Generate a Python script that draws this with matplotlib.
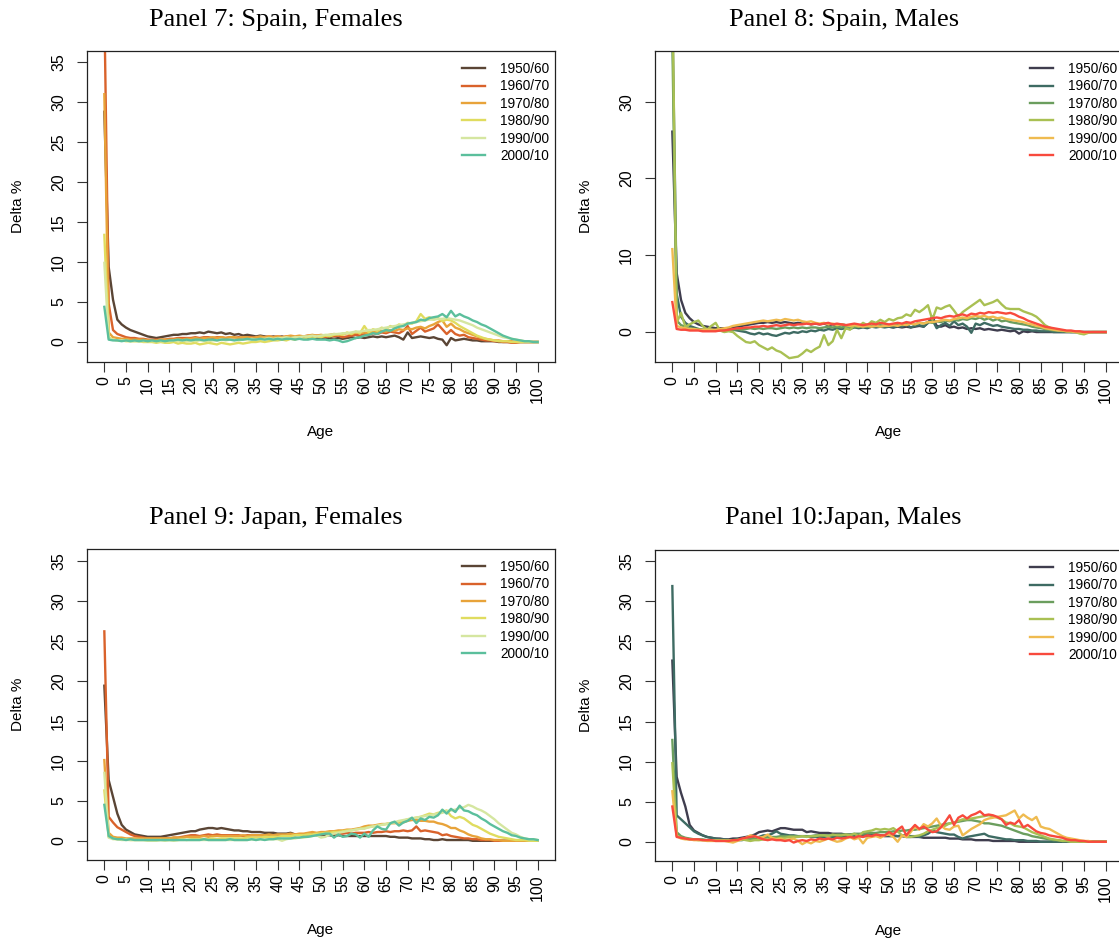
import numpy as np
import matplotlib
matplotlib.use("Agg")
import matplotlib.pyplot as plt

plt.rcParams['font.family'] = ['Liberation Sans', 'DejaVu Sans']

ages = list(range(0, 101))
periods = ["1950/60", "1960/70", "1970/80", "1980/90", "1990/00", "2000/10"]

fem_colors = ["#5a4535", "#d9622b", "#e8a33a", "#e0dc5f", "#d5e6a0", "#5bbf9c"]
male_colors = ["#3f3d4e", "#3e6b63", "#6b9e5e", "#a9c053", "#efbb50", "#f84a3d"]

# ---- Panel 7: Spain, Females (delta % by age)
es_f_1950 = [28.8, 9.4, 5.3, 2.8, 2.2, 1.8, 1.5, 1.3, 1.1, 0.9,
             0.7, 0.6, 0.5, 0.6, 0.7, 0.8, 0.9, 0.9, 1.0, 1.0,
             1.1, 1.1, 1.2, 1.1, 1.3, 1.2, 1.1, 1.2, 1.0, 1.1,
             0.9, 1.0, 0.8, 0.9, 0.8, 0.7, 0.8, 0.7, 0.6, 0.7,
             0.6, 0.7, 0.5, 0.6, 0.5, 0.5, 0.6, 0.5, 0.4, 0.5,
             0.5, 0.4, 0.5, 0.4, 0.5, 0.4, 0.5, 0.6, 0.5, 0.6,
             0.5, 0.6, 0.7, 0.6, 0.7, 0.6, 0.7, 0.8, 0.6, 0.3,
             1.2, 0.5, 0.6, 0.7, 0.6, 0.5, 0.6, 0.4, 0.3, -0.4,
             0.5, 0.2, 0.3, 0.4, 0.3, 0.2, 0.2, 0.1, 0.1, 0.1,
             0.1, 0.0, 0.0, 0.0, 0.0, 0.0, 0.0, 0.0, 0.0, 0.0,
             0.0]
es_f_1960 = [42.0, 4.8, 1.5, 1.0, 0.8, 0.6, 0.5, 0.5, 0.4, 0.4,
             0.3, 0.3, 0.3, 0.3, 0.3, 0.4, 0.4, 0.5, 0.5, 0.5,
             0.5, 0.6, 0.5, 0.6, 0.6, 0.5, 0.6, 0.6, 0.5, 0.6,
             0.5, 0.6, 0.5, 0.6, 0.6, 0.5, 0.6, 0.6, 0.7, 0.6,
             0.7, 0.6, 0.7, 0.7, 0.6, 0.7, 0.7, 0.8, 0.7, 0.8,
             0.7, 0.6, 0.8, 0.7, 0.8, 0.6, 0.7, 0.8, 0.9, 0.8,
             1.0, 0.9, 1.1, 1.0, 1.2, 1.1, 1.3, 1.2, 1.1, 1.4,
             2.0, 1.0, 1.4, 1.8, 1.3, 1.5, 1.7, 2.2, 1.6, 1.0,
             1.5, 1.0, 0.8, 0.9, 0.6, 0.5, 0.4, 0.3, 0.2, 0.2,
             0.1, 0.1, 0.0, 0.0, -0.1, -0.1, 0.0, 0.0, 0.0, 0.0,
             0.0]
es_f_1970 = [31.0, 1.2, 0.6, 0.5, 0.4, 0.4, 0.3, 0.3, 0.3, 0.3,
             0.2, 0.2, 0.2, 0.3, 0.3, 0.3, 0.3, 0.4, 0.3, 0.4,
             0.4, 0.5, 0.4, 0.5, 0.5, 0.6, 0.5, 0.6, 0.5, 0.6,
             0.6, 0.5, 0.6, 0.6, 0.5, 0.6, 0.7, 0.6, 0.7, 0.6,
             0.7, 0.6, 0.7, 0.8, 0.7, 0.8, 0.7, 0.8, 0.9, 0.8,
             0.9, 0.8, 0.9, 1.0, 0.9, 1.0, 1.1, 1.0, 1.2, 1.1,
             1.2, 1.1, 1.3, 1.2, 1.4, 1.3, 1.5, 1.4, 1.6, 1.5,
             1.7, 1.6, 1.8, 1.9, 1.7, 2.0, 2.2, 2.5, 2.7, 1.9,
             2.3, 1.8, 1.6, 1.3, 1.1, 0.9, 0.7, 0.5, 0.4, 0.3,
             0.2, 0.2, 0.1, 0.1, 0.1, 0.0, 0.0, 0.0, 0.0, 0.0,
             0.0]
es_f_1980 = [13.4, 0.6, 0.3, 0.2, 0.2, 0.1, 0.1, 0.1, 0.1, 0.0,
             0.0, 0.0, -0.1, 0.0, -0.1, -0.1, 0.0, -0.2, -0.1, -0.2,
             -0.2, -0.1, -0.3, -0.2, -0.1, -0.2, -0.3, -0.1, -0.2, -0.3,
             -0.2, -0.1, -0.2, -0.1, 0.0, 0.0, 0.1, 0.0, 0.1, 0.2,
             0.2, 0.3, 0.2, 0.4, 0.3, 0.5, 0.4, 0.6, 0.5, 0.7,
             0.6, 0.8, 0.7, 0.9, 1.0, 0.9, 1.2, 1.0, 1.3, 1.1,
             2.0, 1.2, 1.6, 1.4, 1.8, 1.6, 2.0, 1.8, 2.2, 2.0,
             2.4, 2.3, 2.6, 3.5, 2.9, 3.1, 2.8, 3.0, 2.6, 2.8,
             2.7, 2.4, 2.0, 1.7, 1.4, 1.1, 0.8, 0.6, 0.4, 0.3,
             0.2, 0.1, 0.1, 0.1, 0.0, 0.0, 0.0, 0.0, 0.0, 0.0,
             0.0]
es_f_1990 = [9.9, 0.5, 0.3, 0.2, 0.2, 0.2, 0.1, 0.1, 0.1, 0.1,
             0.1, 0.1, 0.1, 0.1, 0.1, 0.1, 0.2, 0.1, 0.2, 0.1,
             0.2, 0.1, 0.2, 0.2, 0.1, 0.2, 0.2, 0.3, 0.2, 0.3,
             0.3, 0.2, 0.3, 0.3, 0.4, 0.3, 0.4, 0.4, 0.5, 0.4,
             0.5, 0.5, 0.6, 0.5, 0.6, 0.6, 0.7, 0.7, 0.8, 0.7,
             0.8, 0.9, 0.9, 1.0, 1.0, 1.1, 1.1, 1.2, 1.3, 1.3,
             1.4, 1.5, 1.5, 1.6, 1.7, 1.8, 1.9, 2.0, 2.1, 2.2,
             2.3, 2.4, 2.5, 2.6, 2.7, 2.8, 2.8, 2.9, 2.9, 3.0,
             2.9, 2.8, 2.7, 2.5, 2.3, 2.1, 1.8, 1.6, 1.4, 1.2,
             1.0, 0.8, 0.6, 0.5, 0.4, 0.3, 0.2, 0.1, 0.1, 0.0,
             0.0]
es_f_2000 = [4.4, 0.3, 0.2, 0.2, 0.1, 0.2, 0.1, 0.2, 0.1, 0.2,
             0.1, 0.2, 0.1, 0.2, 0.1, 0.2, 0.2, 0.3, 0.2, 0.3,
             0.2, 0.3, 0.3, 0.2, 0.3, 0.3, 0.2, 0.3, 0.3, 0.3,
             0.2, 0.3, 0.3, 0.4, 0.3, 0.3, 0.4, 0.3, 0.4, 0.3,
             0.4, 0.3, 0.4, 0.4, 0.3, 0.4, 0.3, 0.3, 0.4, 0.3,
             0.3, 0.3, 0.2, 0.3, 0.2, 0.0, 0.1, 0.3, 0.5, 0.6,
             0.8, 0.9, 1.1, 1.0, 1.3, 1.5, 1.4, 1.7, 1.9, 2.0,
             2.3, 2.4, 2.5, 2.8, 2.7, 3.0, 3.1, 3.2, 3.5, 3.1,
             3.9, 3.2, 3.5, 3.2, 3.0, 2.7, 2.5, 2.2, 2.0, 1.7,
             1.4, 1.1, 0.8, 0.6, 0.4, 0.3, 0.2, 0.1, 0.1, 0.0,
             0.0]

# ---- Panel 8: Spain, Males
es_m_1950 = [26.1, 7.7, 4.2, 2.5, 1.8, 1.3, 1.0, 0.8, 0.7, 0.6,
             0.5, 0.5, 0.5, 0.5, 0.6, 0.7, 0.8, 0.9, 1.0, 1.1,
             1.2, 1.2, 1.3, 1.2, 1.3, 1.2, 1.3, 1.2, 1.1, 1.2,
             1.1, 1.2, 1.0, 1.1, 1.0, 1.1, 0.9, 1.0, 0.9, 1.0,
             0.9, 0.8, 0.9, 0.8, 0.9, 0.8, 0.7, 0.8, 0.7, 0.8,
             0.7, 0.6, 0.7, 0.6, 0.7, 0.6, 0.7, 0.8, 0.7, 1.2,
             2.0, 0.8, 0.7, 0.9, 0.6, 0.7, 0.5, 0.6, 0.4, 0.5,
             0.4, 0.5, 0.3, 0.4, 0.3, 0.2, 0.3, 0.2, 0.1, 0.2,
             -0.2, 0.1, 0.0, 0.1, 0.0, 0.0, 0.0, 0.0, 0.0, 0.0,
             0.0, 0.0, 0.0, 0.0, 0.0, 0.0, 0.0, 0.0, 0.0, 0.0,
             0.0]
es_m_1960 = [42.0, 5.0, 2.0, 1.2, 0.8, 0.6, 0.4, 0.3, 0.3, 0.2,
             0.2, 0.2, 0.1, 0.2, 0.3, 0.2, 0.1, 0.0, -0.2, -0.3,
             -0.1, -0.3, -0.2, -0.4, -0.5, -0.3, -0.1, -0.2, 0.0, -0.1,
             0.1, 0.0, 0.2, 0.1, 0.3, 0.2, 0.4, 0.3, 0.5, 0.4,
             0.5, 0.4, 0.6, 0.5, 0.6, 0.5, 0.7, 0.6, 0.7, 0.6,
             0.7, 0.6, 0.8, 0.7, 1.0, 0.6, 0.8, 0.9, 0.7, 1.2,
             1.6, 0.5, 0.9, 1.2, 0.8, 1.4, 0.9, 1.1, 0.7, -0.1,
             1.1, 0.9, 1.2, 1.0, 0.8, 0.9, 0.7, 0.6, 0.5, 0.4,
             0.4, 0.3, 0.3, 0.2, 0.2, 0.1, 0.1, 0.1, 0.0, 0.0,
             0.0, 0.0, 0.0, 0.0, 0.0, 0.0, 0.0, 0.0, 0.0, 0.0,
             0.0]
es_m_1970 = [38.0, 1.5, 0.9, 0.7, 0.5, 0.4, 0.4, 0.3, 0.3, 0.3,
             0.2, 0.3, 0.2, 0.3, 0.3, 0.4, 0.3, 0.4, 0.5, 0.4,
             0.5, 0.4, 0.5, 0.5, 0.4, 0.5, 0.6, 0.5, 0.6, 0.5,
             0.6, 0.5, 0.6, 0.6, 0.5, 0.6, 0.7, 0.6, 0.7, 0.6,
             0.7, 0.7, 0.6, 0.7, 0.8, 0.7, 0.8, 0.8, 0.9, 0.8,
             0.9, 0.9, 1.0, 0.9, 1.0, 1.1, 1.0, 1.2, 1.1, 1.3,
             1.2, 1.4, 1.3, 1.5, 1.4, 1.6, 1.5, 1.7, 1.6, 1.8,
             1.7, 1.9, 1.6, 1.8, 1.5, 1.7, 1.4, 1.5, 1.3, 1.2,
             1.1, 1.0, 0.9, 0.7, 0.6, 0.5, 0.4, 0.3, 0.2, 0.2,
             0.1, 0.1, 0.0, 0.0, 0.0, 0.0, 0.0, 0.0, 0.0, 0.0,
             0.0]
es_m_1980 = [45.0, 1.2, 2.5, 0.7, 1.0, 1.3, 1.5, 0.8, 0.3, 0.8,
             1.2, 0.2, 0.0, 0.1, 0.0, -0.5, -0.9, -1.3, -1.4, -1.2,
             -1.7, -2.0, -2.3, -2.0, -2.4, -2.6, -3.0, -3.4, -3.3, -3.2,
             -2.8, -2.3, -2.6, -2.2, -1.9, -0.4, -1.7, -1.2, 0.3, -0.8,
             0.5, 0.3, 0.9, 0.7, 1.2, 0.9, 1.4, 1.2, 1.6, 1.3,
             1.7, 1.5, 1.8, 1.9, 2.3, 2.1, 2.9, 2.6, 3.0, 3.5,
             1.6, 3.2, 3.0, 3.3, 3.5, 2.8, 2.0, 2.6, 3.0, 3.4,
             3.8, 4.2, 3.5, 3.7, 3.9, 4.2, 3.6, 3.1, 3.0, 3.0,
             3.0, 2.7, 2.5, 2.3, 2.0, 1.5, 0.9, 0.6, 0.4, 0.3,
             0.2, 0.1, 0.1, 0.0, -0.2, -0.3, -0.1, 0.0, 0.0, 0.0,
             0.0]
es_m_1990 = [10.8, 0.8, 0.6, 0.5, 0.4, 0.4, 0.3, 0.3, 0.3, 0.3,
             0.3, 0.4, 0.5, 0.6, 0.8, 0.9, 1.0, 1.1, 1.2, 1.3,
             1.4, 1.5, 1.4, 1.5, 1.6, 1.5, 1.7, 1.6, 1.5, 1.6,
             1.4, 1.3, 1.4, 1.2, 1.1, 1.2, 1.0, 1.1, 0.9, 1.0,
             0.9, 0.8, 0.9, 0.8, 0.7, 0.8, 0.7, 0.8, 0.7, 0.8,
             0.8, 0.9, 0.8, 1.0, 0.9, 1.1, 1.0, 1.2, 1.1, 1.3,
             1.3, 1.4, 1.5, 1.6, 1.5, 1.7, 1.8, 1.9, 1.8, 2.0,
             2.1, 2.0, 2.1, 1.9, 2.0, 1.8, 1.9, 1.7, 1.6, 1.5,
             1.4, 1.3, 1.1, 1.0, 0.8, 0.7, 0.5, 0.4, 0.3, 0.2,
             0.2, 0.1, 0.1, 0.0, 0.0, -0.1, 0.0, 0.0, 0.0, 0.0,
             0.0]
es_m_2000 = [3.9, 0.4, 0.3, 0.3, 0.2, 0.2, 0.2, 0.1, 0.1, 0.1,
             0.1, 0.2, 0.2, 0.3, 0.4, 0.5, 0.5, 0.6, 0.6, 0.7,
             0.7, 0.8, 0.7, 0.8, 0.9, 0.8, 0.9, 1.0, 0.9, 1.0,
             1.0, 1.1, 1.0, 1.1, 1.0, 1.1, 1.2, 1.0, 1.1, 1.0,
             0.9, 1.0, 1.1, 1.0, 0.9, 1.0, 1.1, 1.0, 1.2, 1.1,
             1.0, 1.1, 1.2, 1.1, 1.3, 1.2, 1.4, 1.5, 1.6, 1.7,
             1.8, 1.9, 1.8, 2.0, 2.1, 2.0, 2.2, 2.3, 2.1, 2.4,
             2.3, 2.5, 2.4, 2.6, 2.5, 2.6, 2.5, 2.4, 2.5, 2.3,
             2.0, 1.8, 1.5, 1.3, 1.1, 0.9, 0.7, 0.6, 0.5, 0.4,
             0.3, 0.2, 0.2, 0.1, 0.1, 0.0, 0.0, 0.0, 0.0, 0.0,
             0.0]

# ---- Panel 9: Japan, Females
jp_f_1950 = [19.4, 7.6, 5.5, 3.4, 2.0, 1.4, 1.1, 0.8, 0.7, 0.6,
             0.5, 0.5, 0.5, 0.5, 0.6, 0.7, 0.8, 0.9, 1.0, 1.1,
             1.2, 1.2, 1.4, 1.5, 1.6, 1.6, 1.5, 1.6, 1.5, 1.4,
             1.3, 1.3, 1.2, 1.2, 1.1, 1.1, 1.1, 1.0, 1.0, 1.0,
             0.9, 0.9, 0.9, 1.0, 0.8, 0.8, 0.8, 0.7, 0.8, 0.7,
             0.7, 0.7, 0.7, 0.6, 0.7, 0.6, 0.6, 0.6, 0.6, 0.6,
             0.6, 0.6, 0.6, 0.6, 0.6, 0.6, 0.5, 0.5, 0.4, 0.4,
             0.4, 0.3, 0.3, 0.3, 0.2, 0.2, 0.1, 0.1, 0.2, 0.1,
             0.1, 0.1, 0.1, 0.1, 0.1, 0.0, 0.0, 0.0, 0.0, 0.0,
             0.0, 0.0, 0.0, 0.0, 0.0, 0.0, 0.0, 0.0, 0.0, 0.0,
             0.0]
jp_f_1960 = [26.2, 3.0, 2.3, 1.7, 1.4, 1.1, 0.8, 0.6, 0.5, 0.4,
             0.3, 0.3, 0.3, 0.3, 0.3, 0.3, 0.4, 0.4, 0.5, 0.6,
             0.7, 0.7, 0.6, 0.7, 0.8, 0.7, 0.8, 0.7, 0.7, 0.7,
             0.7, 0.7, 0.6, 0.7, 0.7, 0.7, 0.7, 0.6, 0.7, 0.7,
             0.7, 0.7, 0.7, 0.8, 0.7, 0.8, 0.8, 0.8, 0.8, 0.8,
             0.8, 0.9, 0.8, 0.9, 0.9, 0.9, 1.0, 0.9, 1.0, 1.0,
             1.0, 1.1, 1.0, 1.1, 1.1, 1.2, 1.1, 1.2, 1.2, 1.3,
             1.2, 1.3, 1.8, 1.2, 1.3, 1.2, 1.1, 1.0, 0.7, 0.8,
             0.6, 0.5, 0.4, 0.3, 0.3, 0.2, 0.2, 0.1, 0.1, 0.1,
             0.0, 0.0, 0.0, 0.0, 0.0, 0.0, 0.0, 0.0, 0.0, 0.0,
             0.0]
jp_f_1970 = [10.1, 1.0, 0.5, 0.4, 0.4, 0.3, 0.3, 0.3, 0.3, 0.3,
             0.3, 0.3, 0.3, 0.3, 0.3, 0.3, 0.4, 0.4, 0.4, 0.5,
             0.5, 0.5, 0.5, 0.6, 0.5, 0.6, 0.6, 0.6, 0.6, 0.6,
             0.6, 0.6, 0.7, 0.6, 0.7, 0.7, 0.7, 0.7, 0.8, 0.7,
             0.8, 0.8, 0.8, 0.9, 0.8, 0.9, 0.9, 1.0, 1.1, 1.0,
             1.1, 1.1, 1.2, 1.2, 1.3, 1.3, 1.4, 1.4, 1.5, 1.6,
             1.8, 1.9, 1.9, 2.0, 2.1, 2.1, 2.2, 2.2, 2.3, 2.3,
             2.5, 2.6, 2.6, 2.5, 2.5, 2.4, 2.4, 2.2, 2.1, 1.9,
             1.6, 1.6, 1.3, 1.1, 0.8, 0.6, 0.5, 0.3, 0.2, 0.2,
             0.1, 0.1, 0.0, 0.0, 0.0, 0.0, 0.0, 0.0, 0.0, 0.0,
             0.0]
jp_f_1980 = [6.3, 0.5, 0.3, 0.2, 0.2, 0.2, 0.1, 0.1, 0.1, 0.1,
             0.1, 0.1, 0.1, 0.1, 0.1, 0.1, 0.1, 0.1, 0.2, 0.1,
             0.2, 0.2, 0.2, 0.2, 0.2, 0.3, 0.2, 0.3, 0.3, 0.3,
             0.3, 0.3, 0.3, 0.4, 0.4, 0.4, 0.4, 0.5, 0.5, 0.5,
             0.5, 0.6, 0.6, 0.6, 0.7, 0.7, 0.7, 0.8, 0.8, 0.9,
             0.9, 1.0, 1.0, 1.1, 1.1, 1.2, 1.3, 1.3, 1.4, 1.5,
             1.6, 1.7, 1.8, 1.9, 2.0, 2.1, 2.2, 2.3, 2.4, 2.5,
             2.7, 2.8, 2.9, 3.0, 3.2, 3.4, 3.3, 3.5, 3.6, 3.8,
             3.1, 2.8, 3.0, 2.8, 2.4, 2.0, 1.8, 1.5, 1.2, 0.9,
             0.7, 0.5, 0.4, 0.3, 0.2, 0.1, 0.1, 0.1, 0.0, 0.0,
             0.0]
jp_f_1990 = [8.5, 0.4, 0.2, 0.2, 0.1, 0.1, 0.1, 0.1, 0.1, 0.1,
             0.0, 0.0, 0.0, 0.1, 0.0, 0.1, 0.0, 0.1, 0.1, 0.1,
             0.1, 0.1, 0.1, 0.1, 0.1, 0.1, 0.1, 0.1, 0.1, 0.1,
             0.1, 0.1, 0.1, 0.1, 0.2, 0.1, 0.2, 0.2, 0.2, 0.2,
             0.2, 0.0, 0.2, 0.3, 0.3, 0.4, 0.4, 0.5, 0.6, 0.7,
             0.4, 0.5, 0.8, 0.9, 1.0, 1.1, 1.2, 1.3, 1.4, 1.5,
             1.5, 1.7, 1.8, 1.9, 2.0, 2.1, 2.2, 2.3, 2.5, 2.6,
             2.7, 2.8, 2.9, 3.0, 3.1, 3.2, 3.3, 3.4, 3.5, 3.7,
             3.8, 3.9, 4.1, 4.2, 4.5, 4.3, 4.0, 3.8, 3.5, 3.1,
             2.7, 2.2, 1.8, 1.4, 1.0, 0.8, 0.5, 0.3, 0.2, 0.2,
             0.1]
jp_f_2000 = [4.5, 0.6, 0.3, 0.2, 0.2, 0.1, 0.2, 0.1, 0.1, 0.1,
             0.1, 0.1, 0.1, 0.1, 0.1, 0.1, 0.1, 0.1, 0.1, 0.1,
             0.1, 0.1, 0.1, 0.2, 0.1, 0.1, 0.1, 0.1, 0.1, 0.2,
             0.1, 0.1, 0.1, 0.1, 0.2, 0.1, 0.2, 0.1, 0.2, 0.2,
             0.3, 0.3, 0.3, 0.3, 0.4, 0.4, 0.5, 0.5, 0.6, 0.7,
             0.8, 0.9, 0.9, 0.4, 0.8, 0.5, 0.6, 0.9, 0.8, 0.4,
             0.9, 0.5, 1.3, 1.8, 1.5, 1.4, 2.2, 2.4, 1.9, 2.3,
             2.5, 2.9, 2.2, 2.8, 2.6, 3.0, 2.9, 3.2, 3.9, 3.4,
             4.0, 3.6, 4.4, 3.8, 3.7, 3.4, 3.2, 2.8, 2.5, 2.1,
             1.8, 1.5, 1.2, 1.0, 0.7, 0.6, 0.4, 0.3, 0.2, 0.2,
             0.1]

# ---- Panel 10: Japan, Males
jp_m_1950 = [22.6, 8.1, 6.1, 4.4, 2.1, 1.4, 1.1, 0.8, 0.6, 0.5,
             0.4, 0.4, 0.3, 0.3, 0.4, 0.4, 0.5, 0.6, 0.7, 0.9,
             1.2, 1.3, 1.4, 1.3, 1.5, 1.7, 1.7, 1.6, 1.5, 1.5,
             1.5, 1.2, 1.3, 1.2, 1.1, 1.1, 1.1, 1.0, 1.0, 1.0,
             0.9, 0.9, 0.9, 0.9, 0.8, 0.8, 0.8, 0.8, 0.8, 0.7,
             0.7, 0.7, 0.7, 0.7, 0.6, 0.6, 0.6, 0.6, 0.5, 0.5,
             0.5, 0.5, 0.5, 0.5, 0.4, 0.4, 0.4, 0.3, 0.3, 0.3,
             0.2, 0.2, 0.2, 0.2, 0.1, 0.1, 0.1, 0.1, 0.1, 0.1,
             0.0, 0.0, 0.0, 0.0, 0.0, 0.0, 0.0, 0.0, 0.0, 0.0,
             0.0, 0.0, 0.0, 0.0, 0.0, 0.0, 0.0, 0.0, 0.0, 0.0,
             0.0]
jp_m_1960 = [31.9, 3.3, 2.8, 2.3, 1.8, 1.3, 1.0, 0.8, 0.6, 0.5,
             0.4, 0.3, 0.3, 0.2, 0.2, 0.2, 0.2, 0.3, 0.4, 0.5,
             0.6, 0.8, 0.8, 1.0, 1.3, 1.0, 0.9, 0.8, 0.8, 0.7,
             0.7, 0.7, 0.6, 0.6, 0.6, 0.6, 0.7, 0.6, 0.6, 0.6,
             0.6, 0.6, 0.7, 0.7, 0.7, 0.7, 0.8, 0.8, 0.7, 0.8,
             0.8, 0.8, 0.7, 0.8, 0.8, 0.7, 0.7, 0.6, 0.8, 1.0,
             1.4, 1.2, 1.1, 1.0, 0.9, 0.9, 0.6, 0.4, 0.6, 0.7,
             0.8, 0.9, 1.0, 0.7, 0.6, 0.5, 0.4, 0.3, 0.3, 0.2,
             0.2, 0.2, 0.1, 0.1, 0.1, 0.0, 0.0, 0.0, 0.0, 0.0,
             0.0, 0.0, 0.0, 0.0, 0.0, 0.0, 0.0, 0.0, 0.0, 0.0,
             0.0]
jp_m_1970 = [12.7, 1.2, 0.7, 0.5, 0.4, 0.3, 0.3, 0.3, 0.2, 0.2,
             0.2, 0.2, 0.2, 0.2, 0.2, 0.3, 0.3, 0.3, 0.4, 0.4,
             0.5, 0.5, 0.6, 0.6, 0.6, 0.7, 0.7, 0.7, 0.7, 0.7,
             0.7, 0.7, 0.7, 0.8, 0.8, 0.8, 0.8, 0.8, 0.9, 0.9,
             0.9, 0.9, 1.0, 1.0, 1.0, 1.1, 1.1, 1.1, 1.2, 1.2,
             1.2, 1.3, 1.3, 1.4, 1.4, 1.5, 1.5, 1.6, 1.7, 1.8,
             1.9, 2.0, 2.1, 2.2, 2.3, 2.4, 2.5, 2.6, 2.7, 2.7,
             2.6, 2.5, 2.3, 2.3, 2.2, 2.1, 2.0, 1.8, 1.6, 1.4,
             1.2, 1.0, 0.9, 0.7, 0.6, 0.5, 0.4, 0.3, 0.2, 0.2,
             0.1, 0.1, 0.0, 0.0, 0.0, 0.0, 0.0, 0.0, 0.0, 0.0,
             0.0]
jp_m_1980 = [9.8, 0.8, 0.5, 0.4, 0.3, 0.3, 0.2, 0.2, 0.2, 0.2,
             0.2, 0.2, 0.2, 0.2, 0.2, 0.2, 0.3, 0.2, 0.1, 0.2,
             0.2, 0.3, 0.3, 0.4, 0.4, 0.5, 0.5, 0.6, 0.6, 0.6,
             0.7, 0.6, 0.7, 0.7, 0.8, 0.8, 0.7, 0.9, 0.8, 0.8,
             0.9, 0.8, 1.0, 0.7, 1.2, 1.3, 1.4, 1.6, 1.5, 1.6,
             1.5, 1.7, 1.3, 0.8, 0.6, 0.6, 0.7, 0.8, 1.0, 1.3,
             1.5, 1.7, 1.9, 2.0, 2.3, 2.4, 2.6, 2.8, 2.8, 2.9,
             3.0, 3.1, 3.2, 3.3, 3.2, 3.0, 2.8, 2.4, 2.3, 2.0,
             1.9, 1.8, 1.5, 1.2, 1.0, 0.8, 0.6, 0.4, 0.3, 0.2,
             0.1, 0.1, 0.0, 0.0, 0.0, 0.0, 0.0, 0.0, 0.0, 0.0,
             0.0]
jp_m_1990 = [6.3, 0.7, 0.4, 0.3, 0.3, 0.2, 0.2, 0.2, 0.1, 0.1,
             0.1, 0.1, 0.1, 0.0, -0.1, 0.1, 0.3, 0.5, 0.8, 0.7,
             0.5, 0.6, 0.9, 0.5, 0.3, 0.4, 0.2, 0.3, 0.4, 0.1,
             -0.3, 0.0, -0.2, 0.1, 0.0, 0.2, 0.4, 0.2, 0.0, 0.1,
             0.4, 0.6, 0.3, 0.5, -0.2, 0.5, 0.6, 0.7, 0.5, 0.8,
             0.9, 0.6, 0.0, 0.8, 0.6, 1.2, 1.9, 1.5, 2.2, 1.9,
             2.3, 2.9, 2.0, 1.6, 1.5, 1.9, 2.0, 0.8, 1.2, 1.6,
             1.9, 2.2, 2.7, 2.9, 3.0, 3.1, 3.2, 3.3, 3.6, 3.9,
             2.9, 3.4, 3.0, 2.7, 3.1, 1.9, 1.7, 1.6, 1.3, 1.0,
             0.7, 0.5, 0.4, 0.3, 0.2, 0.1, 0.1, 0.0, 0.0, 0.0,
             0.0]
jp_m_2000 = [4.4, 0.6, 0.5, 0.4, 0.3, 0.3, 0.3, 0.2, 0.2, 0.2,
             0.1, 0.1, 0.1, 0.1, 0.2, 0.2, 0.4, 0.5, 0.6, 0.7,
             0.5, 0.3, 0.2, 0.3, 0.2, 0.2, 0.1, 0.2, -0.1, 0.1,
             0.2, 0.1, 0.3, 0.2, 0.4, 0.3, 0.4, 0.3, 0.5, 0.4,
             0.5, 0.6, 0.5, 0.7, 0.6, 0.8, 0.7, 0.9, 0.8, 0.8,
             1.2, 0.9, 1.5, 1.9, 0.8, 1.5, 2.1, 1.6, 1.9, 1.5,
             1.2, 1.3, 1.8, 2.5, 3.3, 2.1, 3.0, 3.3, 2.9, 3.3,
             3.5, 3.8, 3.3, 3.4, 3.3, 3.1, 2.8, 2.1, 2.4, 2.2,
             2.7, 1.8, 2.1, 1.7, 1.3, 1.1, 1.0, 0.8, 0.7, 0.6,
             0.5, 0.3, 0.2, 0.2, 0.1, 0.1, 0.0, 0.0, 0.0, 0.0,
             0.0]

panels = [
    ("Panel 7: Spain, Females", [es_f_1950, es_f_1960, es_f_1970, es_f_1980, es_f_1990, es_f_2000],
     fem_colors, (-2.5, 36.4), list(range(0, 36, 5))),
    ("Panel 8: Spain, Males", [es_m_1950, es_m_1960, es_m_1970, es_m_1980, es_m_1990, es_m_2000],
     male_colors, (-3.9, 36.6), [0, 10, 20, 30]),
    ("Panel 9: Japan, Females", [jp_f_1950, jp_f_1960, jp_f_1970, jp_f_1980, jp_f_1990, jp_f_2000],
     fem_colors, (-2.4, 36.5), list(range(0, 36, 5))),
    ("Panel 10:Japan, Males", [jp_m_1950, jp_m_1960, jp_m_1970, jp_m_1980, jp_m_1990, jp_m_2000],
     male_colors, (-2.4, 36.4), list(range(0, 36, 5))),
]

W, H = 1119, 940
fig = plt.figure(figsize=(W / 100, H / 100), dpi=100)

# axes boxes in pixels: left, top (width/height shared)
boxes = [(87, 51), (655, 51), (87, 549), (655, 550)]
aw, ah = 468, 311
title_pos = [(276, 20), (844, 20), (276, 518), (843, 518)]

for (title, series, cols, ylim, yt), (lx, ty), (tx, tyy) in zip(panels, boxes, title_pos):
    ax = fig.add_axes([lx / W, 1 - (ty + ah) / H, aw / W, ah / H])
    for s, c, lab in zip(series, cols, periods):
        ax.plot(ages, s, color=c, lw=1.7, label=lab)
    ax.set_xlim(-4, 104)
    ax.set_ylim(*ylim)
    ax.set_xticks(range(0, 101, 5))
    ax.set_xticklabels([str(v) for v in range(0, 101, 5)], rotation=90)
    ax.set_yticks(yt)
    ax.set_yticklabels([str(v) for v in yt], rotation=90, va='center')
    ax.tick_params(axis='both', direction='out', length=7, width=0.8,
                   labelsize=11.5, color='#333333')
    ax.tick_params(axis='x', pad=3)
    ax.tick_params(axis='y', pad=8)
    for sp in ax.spines.values():
        sp.set_linewidth(0.9)
        sp.set_color('#222222')
    ax.text(0.5, -0.225, "Age", transform=ax.transAxes, ha='center', va='center', fontsize=11)
    ax.text(-0.147, 0.5, "Delta %", transform=ax.transAxes, ha='center', va='center',
            rotation=90, fontsize=11)
    ax.legend(loc='upper right', bbox_to_anchor=(1.0, 0.982), frameon=False, fontsize=9.8,
              handlelength=1.75, handletextpad=1.1, labelspacing=0.25,
              borderaxespad=0.0, borderpad=0.4)
    fig.text(tx / W, 1 - tyy / H, title, ha='center', va='center', fontsize=19,
             family='Liberation Serif')

fig.savefig("out.png", dpi=100)
